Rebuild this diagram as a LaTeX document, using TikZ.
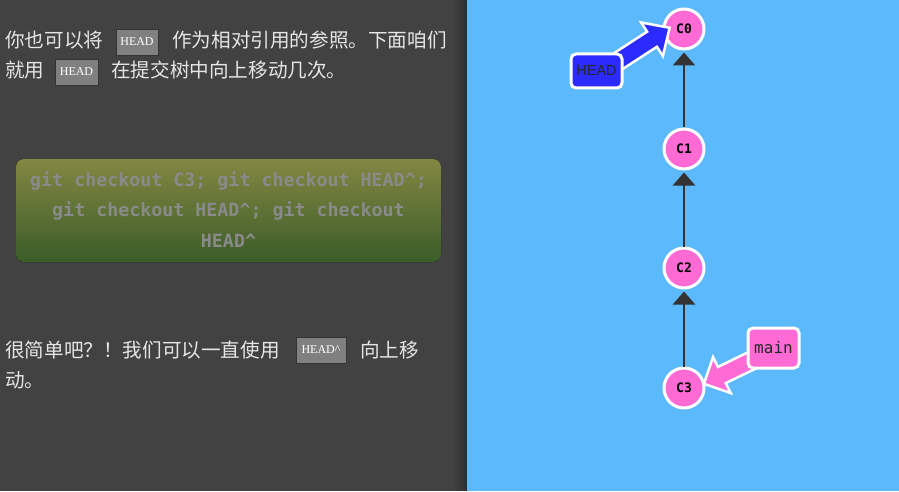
\documentclass[tikz,border=0pt]{standalone}
\usepackage{fontspec}
\usetikzlibrary{arrows.meta}
\newfontfamily\cjk{Noto Sans CJK SC}
\newfontfamily\monof{DejaVu Sans Mono}
\newfontfamily\codef{Liberation Serif}
\newfontfamily\sansf{Liberation Sans}
\definecolor{panel}{HTML}{424242}
\definecolor{panelshadow}{HTML}{2E2E2E}
\definecolor{skyb}{HTML}{5CB9FC}
\definecolor{commitpink}{HTML}{FF6AD5}
\definecolor{headblue}{HTML}{2B2BFF}
\definecolor{txtlight}{HTML}{E6E6E6}
\definecolor{codegray}{HTML}{808080}
\definecolor{greentop}{HTML}{838742}
\definecolor{greenbot}{HTML}{3B5C29}
\definecolor{cmdgray}{HTML}{8A8A8A}
\definecolor{edgegray}{HTML}{333333}
\tikzset{
  x=1pt,y=1pt,
  para/.style={anchor=base west,inner sep=0pt,text=txtlight,font=\cjk\fontsize{19.6}{20}\selectfont},
  codebox/.style={draw=edgegray,fill=codegray,line width=0.8pt,inner sep=0pt,text=white,font=\codef\fontsize{12}{12}\selectfont},
  commit/.style={circle,draw=white,fill=commitpink,line width=3pt,minimum size=40pt,inner sep=0pt,font=\monof\bfseries\fontsize{13}{13}\selectfont},
  parentedge/.style={draw=edgegray,line width=2.6pt,-{Triangle[width=22pt,length=13pt]},shorten >=2pt},
  reflabel/.style={draw=white,line width=3pt,rounded corners=5pt,inner sep=0pt},
  refarrow/.style={draw=white,line width=2.5pt,line join=miter},
  cmdline/.style={text=cmdgray,font=\monof\bfseries\fontsize{18.3}{18.3}\selectfont,inner sep=0pt}
}
\begin{document}
\begin{tikzpicture}
\useasboundingbox (0,0) rectangle (899,491);
% panels
\fill[panel] (0,0) rectangle (467,491);
\foreach \i in {0,...,14} {
  \pgfmathsetmacro{\pct}{100*\i/14}
  \fill[panelshadow!\pct!panel] (452+\i,0) rectangle (453.05+\i,491);
}
\fill[skyb] (467,0) rectangle (899,491);

% paragraph 1
\node[para] (p1a) at (5,443) {你也可以将};
\node[codebox,minimum width=42pt,minimum height=26pt] (h1) at (137,449) {HEAD};
\node[para] (p1b) at (172,443) {作为相对引用的参照。下面咱们};
\node[para] (p2a) at (5,413) {就用};
\node[codebox,minimum width=43pt,minimum height=26pt] (h2) at (76.5,419) {HEAD};
\node[para] (p2b) at (111,413) {在提交树中向上移动几次。};

% command box
\fill[top color=greentop,bottom color=greenbot,rounded corners=8pt] (16,229) rectangle (441,332);
\node[cmdline] (c1) at (228.5,310) {git checkout C3; git checkout HEAD\^{};};
\node[cmdline] (c2) at (228.5,280) {git checkout HEAD\^{}; git checkout};
\node[cmdline] (c3) at (228.5,250) {HEAD\^{}};

% paragraph 2
\node[para] (p3a) at (5,134) {很简单吧？！我们可以一直使用};
\node[codebox,minimum width=50pt,minimum height=26pt] (h3) at (321,141) {HEAD\^{}};
\node[para] (p3b) at (360,134) {向上移};
\node[para] (p4a) at (5,104) {动。};

% commits
\node[commit] (C0) at (684,462) {C0};
\node[commit] (C1) at (684,342) {C1};
\node[commit] (C2) at (684,223) {C2};
\node[commit] (C3) at (684,103) {C3};
\draw[parentedge] (C1) -- (C0);
\draw[parentedge] (C2) -- (C1);
\draw[parentedge] (C3) -- (C2);

% HEAD ref arrow
\begin{scope}[shift={(600,418)},rotate=33]
\filldraw[refarrow,fill=headblue] (0,-9) -- (62,-9) -- (62,-20) -- (83,0) -- (62,20) -- (62,9) -- (0,9) -- cycle;
\end{scope}
\node[reflabel,fill=headblue,minimum width=51pt,minimum height=34pt,font=\sansf\fontsize{14.5}{14.5}\selectfont,text=black!85] (HEAD) at (596.5,420) {HEAD};

% main ref arrow
\begin{scope}[shift={(765,137)},rotate=206]
\filldraw[refarrow,fill=commitpink] (0,-9) -- (48,-9) -- (48,-20) -- (68,0) -- (48,20) -- (48,9) -- (0,9) -- cycle;
\end{scope}
\node[reflabel,fill=commitpink,minimum width=51pt,minimum height=40pt,font=\monof\fontsize{16}{16}\selectfont,text=black!85] (main) at (773.5,143) {main};
\end{tikzpicture}
\end{document}
